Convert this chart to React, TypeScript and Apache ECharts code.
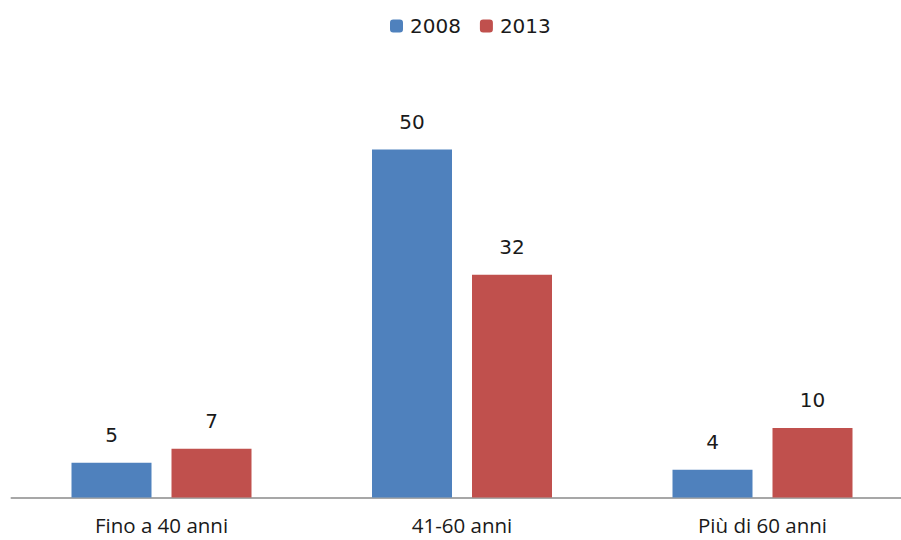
import React, { useEffect, useRef } from "react";
import * as echarts from "echarts";

const categories = ["Fino a 40 anni", "41-60 anni", "Più di 60 anni"];
const seriesNames = ["2008", "2013"];
const values2008 = [5, 50, 4];
const values2013 = [7, 32, 10];
const colors = ["#4F81BD", "#C0504D"];

export default function App() {
  const ref = useRef<HTMLDivElement>(null);

  useEffect(() => {
    if (!ref.current) return;
    const chart = echarts.init(ref.current, null, { renderer: "svg" });
    const valueLabel = {
      show: true,
      position: "top",
      distance: 18,
      color: "#1a1a1a",
      fontFamily: "DejaVu Sans",
      fontSize: 20,
    };
    chart.setOption({
      animation: false,
      backgroundColor: "#ffffff",
      legend: {
        top: 11,
        left: 385,
        itemWidth: 13,
        itemHeight: 13,
        itemGap: 19,
        textStyle: {
          fontFamily: "DejaVu Sans",
          fontSize: 20,
          color: "#1a1a1a",
          padding: [0, 0, 0, 2],
        },
        data: seriesNames,
      },
      grid: {
        left: 11.25,
        right: -11.75,
        top: 80,
        bottom: 42.5,
        outerBoundsMode: "none",
        containLabel: false,
      },
      xAxis: {
        type: "category",
        data: categories,
        axisLine: { lineStyle: { color: "#8a8a8a", width: 1.5 } },
        axisTick: { show: false },
        axisLabel: {
          margin: 17,
          color: "#1a1a1a",
          fontFamily: "Open Sans",
          fontSize: 20.5,
          lineHeight: 20,
        },
      },
      yAxis: {
        type: "value",
        min: 0,
        max: 60,
        show: false,
        splitLine: { show: false },
      },
      series: [
        {
          name: seriesNames[0],
          type: "bar",
          data: values2008,
          barWidth: 80,
          barGap: "25%",
          itemStyle: { color: colors[0] },
          label: valueLabel,
        },
        {
          name: seriesNames[1],
          type: "bar",
          data: values2013,
          barWidth: 80,
          barGap: "25%",
          itemStyle: { color: colors[1] },
          label: valueLabel,
        },
      ],
    });
    return () => chart.dispose();
  }, []);

  return (
    <div
      ref={ref}
      style={{ position: "absolute", left: 0, top: 0, width: 901, height: 540 }}
    />
  );
}
